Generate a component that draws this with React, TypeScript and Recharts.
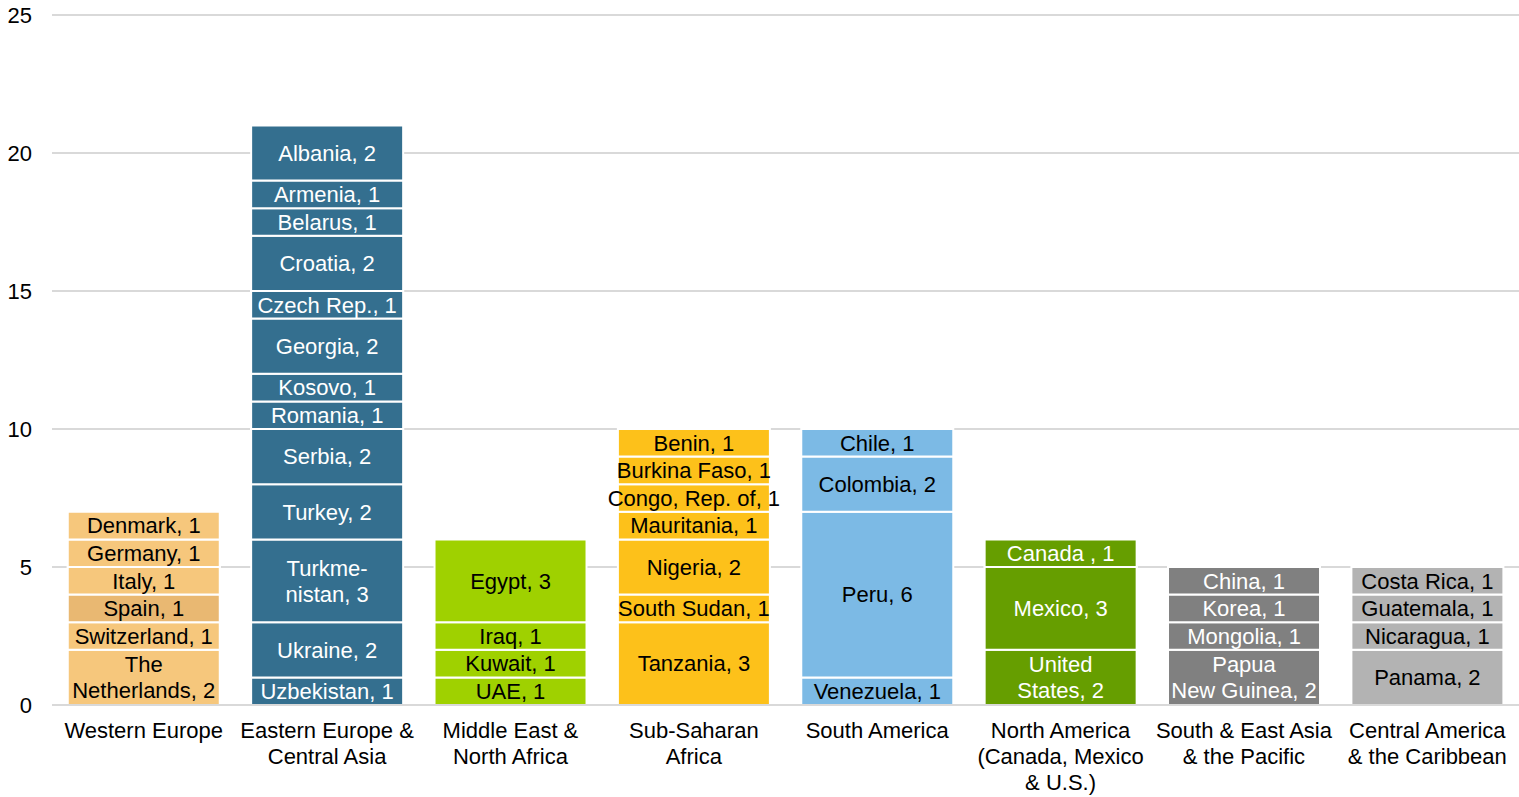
import { BarChart, Bar, XAxis, YAxis, CartesianGrid, Cell, LabelList } from 'recharts'

// Regions along the x axis (tick label lines)
const regionLabels = [
  ['Western Europe'],
  ['Eastern Europe &', 'Central Asia'],
  ['Middle East &', 'North Africa'],
  ['Sub-Saharan', 'Africa'],
  ['South America'],
  ['North America', '(Canada, Mexico', '& U.S.)'],
  ['South & East Asia', '& the Pacific'],
  ['Central America', '& the Caribbean'],
]

// Countries per region, bottom to top
const westernEurope = [
  { name: 'The\nNetherlands', value: 2 },
  { name: 'Switzerland', value: 1 },
  { name: 'Spain', value: 1 },
  { name: 'Italy', value: 1 },
  { name: 'Germany', value: 1 },
  { name: 'Denmark', value: 1 },
]
const easternEurope = [
  { name: 'Uzbekistan', value: 1 },
  { name: 'Ukraine', value: 2 },
  { name: 'Turkme-\nnistan', value: 3 },
  { name: 'Turkey', value: 2 },
  { name: 'Serbia', value: 2 },
  { name: 'Romania', value: 1 },
  { name: 'Kosovo', value: 1 },
  { name: 'Georgia', value: 2 },
  { name: 'Czech Rep.', value: 1 },
  { name: 'Croatia', value: 2 },
  { name: 'Belarus', value: 1 },
  { name: 'Armenia', value: 1 },
  { name: 'Albania', value: 2 },
]
const middleEast = [
  { name: 'UAE', value: 1 },
  { name: 'Kuwait', value: 1 },
  { name: 'Iraq', value: 1 },
  { name: 'Egypt', value: 3 },
]
const subSaharan = [
  { name: 'Tanzania', value: 3 },
  { name: 'South Sudan', value: 1 },
  { name: 'Nigeria', value: 2 },
  { name: 'Mauritania', value: 1 },
  { name: 'Congo, Rep. of', value: 1 },
  { name: 'Burkina Faso', value: 1 },
  { name: 'Benin', value: 1 },
]
const southAmerica = [
  { name: 'Venezuela', value: 1 },
  { name: 'Peru', value: 6 },
  { name: 'Colombia', value: 2 },
  { name: 'Chile', value: 1 },
]
const northAmerica = [
  { name: 'United\nStates', value: 2 },
  { name: 'Mexico', value: 3 },
  { name: 'Canada ', value: 1 },
]
const southEastAsia = [
  { name: 'Papua\nNew Guinea', value: 2 },
  { name: 'Mongolia', value: 1 },
  { name: 'Korea', value: 1 },
  { name: 'China', value: 1 },
]
const centralAmerica = [
  { name: 'Panama', value: 2 },
  { name: 'Nicaragua', value: 1 },
  { name: 'Guatemala', value: 1 },
  { name: 'Costa Rica', value: 1 },
]

const regionCountries = [
  westernEurope, easternEurope, middleEast, subSaharan,
  southAmerica, northAmerica, southEastAsia, centralAmerica,
]

const REGION_COLORS = ['#f6c77c', '#346f8f', '#9fd100', '#fdc11a', '#7cbae5', '#669e00', '#808080', '#b3b3b3']
const TEXT_COLORS = ['#000', '#fff', '#000', '#000', '#000', '#fff', '#fff', '#000']
// Spain is a shade darker in the original
const SPECIAL_FILLS: Record<string, string> = { Spain: '#e9b872' }

const yTicks = [0, 5, 10, 15, 20, 25]

const FONT = '"Liberation Sans", Arial, sans-serif'
const FONT_SIZE = 22
const LINE_H = 26
const MAX_SEGMENTS = Math.max(...regionCountries.map(r => r.length))

// label text -> region index, so label colour doesn't depend on LabelList's index
const labelRegion: Record<string, number> = {}

const chartData = regionLabels.map((label, ri) => {
  const row: Record<string, any> = { region: label.join(' ') }
  regionCountries[ri].forEach((c, si) => {
    const text = `${c.name}, ${c.value}`
    row[`s${si}`] = c.value
    row[`n${si}`] = text
    labelRegion[text] = ri
  })
  return row
})

const RegionTick = ({ x, y, payload }: any) => {
  const lines = regionLabels[payload.index] ?? [payload.value]
  return (
    <text x={x} y={y} textAnchor="middle" fill="#000" fontSize={FONT_SIZE} fontFamily={FONT}>
      {lines.map((l, i) => (
        <tspan key={i} x={x} y={y + 17 + i * LINE_H} dy="0.35em">{l}</tspan>
      ))}
    </text>
  )
}

const SegmentLabel = (props: any) => {
  const { x, y, width, height, value } = props
  if (typeof value !== 'string' || !height) return null
  const lines = value.split('\n')
  const cx = x + width / 2
  const cy = y + height / 2 - ((lines.length - 1) * LINE_H) / 2
  const ri = labelRegion[value] ?? 0
  return (
    <text x={cx} y={cy} textAnchor="middle" fill={TEXT_COLORS[ri]} fontSize={FONT_SIZE} fontFamily={FONT}>
      {lines.map((l, i) => (
        <tspan key={i} x={cx} y={cy + i * LINE_H} dy="0.35em">{l}</tspan>
      ))}
    </text>
  )
}

export default function App() {
  return (
    <div style={{ position: 'absolute', left: 0, top: 0, width: 1519, height: 797, background: '#fff', fontFamily: FONT }}>
      <style>{'body{margin:0;overflow:hidden}'}</style>
      <BarChart
        width={1519}
        height={797}
        data={chartData}
        margin={{ top: 15, right: 0, left: 0, bottom: 0 }}
        barCategoryGap="8.6%"
      >
        <CartesianGrid vertical={false} stroke="#d9d9d9" strokeWidth={2} />
        <XAxis
          dataKey="region"
          height={92}
          tickLine={false}
          axisLine={{ stroke: '#d9d9d9', strokeWidth: 2 }}
          tick={<RegionTick />}
          interval={0}
        />
        <YAxis
          width={52}
          domain={[0, 25]}
          ticks={yTicks}
          tickLine={false}
          axisLine={false}
          tickMargin={14}
          tick={{ fill: '#000', fontSize: FONT_SIZE, fontFamily: FONT }}
        />
        {Array.from({ length: MAX_SEGMENTS }, (_, seg) => (
          <Bar key={seg} dataKey={`s${seg}`} stackId="a" isAnimationActive={false}>
            {chartData.map((_row, ri) => {
              const country = regionCountries[ri][seg]
              const fill = (country && SPECIAL_FILLS[country.name]) || REGION_COLORS[ri]
              return <Cell key={ri} fill={fill} stroke="#fff" strokeWidth={2} />
            })}
            <LabelList dataKey={`n${seg}`} content={<SegmentLabel />} />
          </Bar>
        ))}
      </BarChart>
    </div>
  )
}
